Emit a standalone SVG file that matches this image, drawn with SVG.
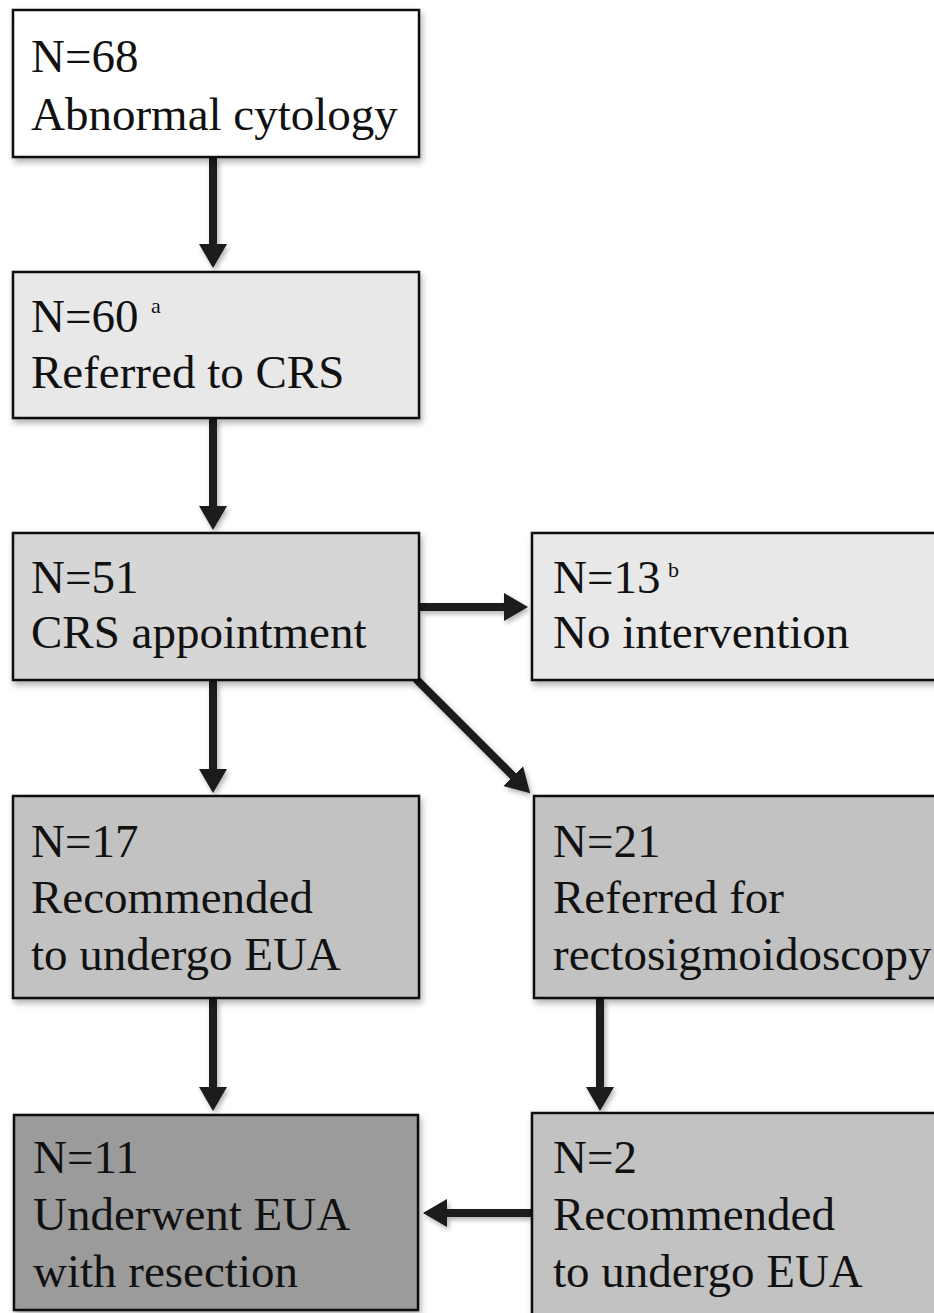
<svg xmlns="http://www.w3.org/2000/svg" width="934" height="1313" viewBox="0 0 934 1313">
<style>
  .box { stroke: #111; stroke-width: 2.5; filter: url(#shadow); }
  .t { font-family: "Liberation Serif", "Times New Roman", serif; font-size: 47px; fill: #111; }
  .sup { font-family: "Liberation Serif", "Times New Roman", serif; font-size: 22px; fill: #111; }
  .conn { stroke: #1a1a1a; stroke-width: 8; fill: none; marker-end: url(#head); }
</style>
<defs>
  <filter id="shadow" x="-10%" y="-10%" width="130%" height="140%">
    <feDropShadow dx="2" dy="4" stdDeviation="3" flood-color="#000" flood-opacity="0.3"/>
  </filter>
  <filter id="cshadow" filterUnits="userSpaceOnUse" x="0" y="0" width="934" height="1313">
    <feDropShadow dx="2" dy="3" stdDeviation="2.5" flood-color="#000" flood-opacity="0.3"/>
  </filter>
  <marker id="head" markerUnits="userSpaceOnUse" markerWidth="26" markerHeight="30" refX="4" refY="15" orient="auto" viewBox="0 0 26 30">
    <path d="M0,1 L24,15 L0,29 z" fill="#1a1a1a"/>
  </marker>
</defs>
<rect width="934" height="1313" fill="#fff"/>

<g id="connectors" filter="url(#cshadow)">
  <line class="conn" x1="213" y1="158" x2="213" y2="248"/>
  <line class="conn" x1="213" y1="419" x2="213" y2="510"/>
  <line class="conn" x1="213" y1="681" x2="213" y2="773"/>
  <line class="conn" x1="420" y1="607" x2="508" y2="607"/>
  <line class="conn" x1="416" y1="679" x2="516" y2="779"/>
  <line class="conn" x1="213" y1="999" x2="213" y2="1091"/>
  <line class="conn" x1="600" y1="999" x2="600" y2="1091"/>
  <line class="conn" x1="532" y1="1213" x2="443" y2="1213"/>
</g>

<g id="n68">
  <rect class="box" x="13" y="10" width="406" height="147" fill="#ffffff"/>
  <text class="t" x="31" y="72">N=68</text>
  <text class="t" x="31" y="130">Abnormal cytology</text>
</g>

<g id="n60">
  <rect class="box" x="13" y="272" width="406" height="146" fill="#e8e8e8"/>
  <text class="t" x="31" y="332">N=60</text>
  <text class="sup" x="151" y="313">a</text>
  <text class="t" x="31" y="388">Referred to CRS</text>
</g>

<g id="n51">
  <rect class="box" x="13" y="533" width="406" height="147" fill="#d6d6d6"/>
  <text class="t" x="31" y="593">N=51</text>
  <text class="t" x="31" y="648">CRS appointment</text>
</g>

<g id="n13">
  <rect class="box" x="532" y="533" width="420" height="147" fill="#e8e8e8"/>
  <text class="t" x="553" y="593">N=13</text>
  <text class="sup" x="668" y="577">b</text>
  <text class="t" x="553" y="648">No intervention</text>
</g>

<g id="n17">
  <rect class="box" x="13" y="796" width="406" height="202" fill="#c2c2c2"/>
  <text class="t" x="31" y="857">N=17</text>
  <text class="t" x="31" y="913">Recommended</text>
  <text class="t" x="31" y="970">to undergo EUA</text>
</g>

<g id="n21">
  <rect class="box" x="534" y="796" width="420" height="202" fill="#c2c2c2"/>
  <text class="t" x="553" y="857">N=21</text>
  <text class="t" x="553" y="913">Referred for</text>
  <text class="t" x="553" y="970">rectosigmoidoscopy</text>
</g>

<g id="n11">
  <rect class="box" x="14" y="1115" width="404" height="195" fill="#9b9b9b" stroke-width="5"/>
  <text class="t" x="33" y="1173">N=11</text>
  <text class="t" x="33" y="1230">Underwent EUA</text>
  <text class="t" x="33" y="1287">with resection</text>
</g>

<g id="n2">
  <rect class="box" x="532" y="1113" width="420" height="210" fill="#c2c2c2"/>
  <text class="t" x="553" y="1173">N=2</text>
  <text class="t" x="553" y="1230">Recommended</text>
  <text class="t" x="553" y="1287">to undergo EUA</text>
</g>
</svg>
